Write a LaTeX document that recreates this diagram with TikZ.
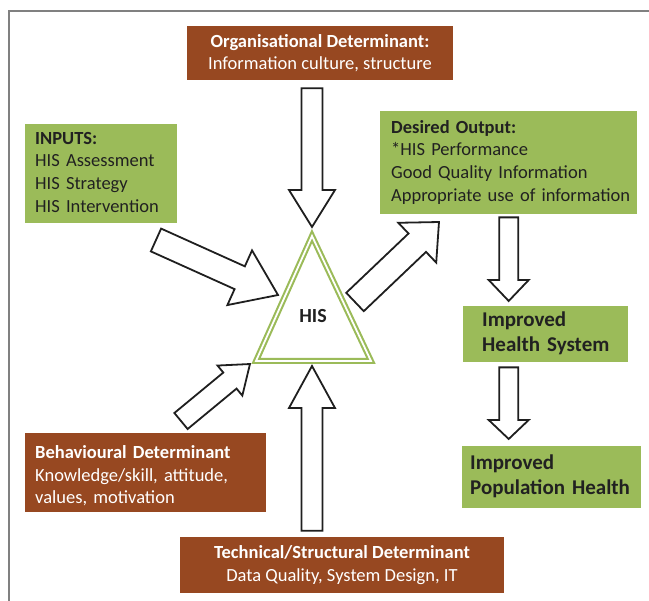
\documentclass[tikz,border=0pt]{standalone}
\usepackage{fontspec}
\setmainfont{Carlito}
\usetikzlibrary{calc}

\definecolor{hisbrown}{RGB}{151,72,33}
\definecolor{hisgreen}{RGB}{155,187,89}
\definecolor{histext}{RGB}{33,33,33}
\definecolor{framegray}{RGB}{128,128,128}

\def\boxfont{\fontsize{18.5}{22.6}\selectfont}
\def\bigfont{\fontsize{21}{24.5}\selectfont\bfseries}
% lines of a box, never broken
\newcommand{\boxlines}[1]{\begin{tabular}{@{}l@{}}#1\end{tabular}}

% block arrow between two named points: tail, tip, shaft half width, head half width, head length
\newcommand{\fatarrow}[5]{
	\draw[fatarrow] let \p1=(#1), \p2=(#2),
		\n1={atan2(\y2-\y1,\x2-\x1)}, \n2={veclen(\x2-\x1,\y2-\y1)} in
		[shift={(\p1)}, rotate=\n1]
		(0pt,-#3pt) -- (\n2-#5pt,-#3pt) -- (\n2-#5pt,-#4pt) -- (\n2,0pt)
		-- (\n2-#5pt,#4pt) -- (\n2-#5pt,#3pt) -- (0pt,#3pt) -- cycle;
}

\tikzset{
	brownbox/.style={fill=hisbrown, text=white, inner sep=0pt, align=center, font=\boxfont},
	greenbox/.style={fill=hisgreen, text=histext, inner ysep=0pt, align=left, anchor=north west, font=\boxfont},
	bigbox/.style={greenbox, font=\bigfont},
	fatarrow/.style={draw=black!88, line width=1.8pt, fill=white, line join=miter},
	histri/.style={draw=hisgreen, line width=2.1pt, double=white, double distance=1.8pt, line join=miter},
}

\begin{document}
\begin{tikzpicture}[x=1pt, y=-1pt]
	\useasboundingbox (0,0) rectangle (649,601);

	%outer frame, cut off at the right and bottom
	\draw[framegray, line width=1.5pt] (9,601) -- (9,11) -- (649,11);

	%determinants
	\node[brownbox, minimum width=266pt, minimum height=54pt] (org) at (320,53)
		{\textbf{Organisational Determinant:}\\Information culture, structure};
	\node[brownbox, minimum width=324pt, minimum height=56pt] (tech) at (342,565)
		{\textbf{Technical/Structural Determinant}\\Data Quality, System Design, IT};
	\node[greenbox, fill=hisbrown, text=white, inner xsep=10pt, text width=221pt, minimum height=79pt] (behav) at (25,433)
		{\boxlines{\rule{0pt}{24pt}\textbf{Behavioural Determinant}\\Knowledge/skill, attitude,\\values, motivation}};

	%inputs and outputs
	\node[greenbox, inner xsep=10pt, text width=132pt, minimum height=99pt] (inputs) at (25,124)
		{\boxlines{\textbf{INPUTS:}\\HIS Assessment\\HIS Strategy\\HIS Intervention}};
	\node[greenbox, inner xsep=11pt, text width=235pt, minimum height=103pt] (output) at (380,111)
		{\boxlines{\textbf{Desired Output:}\\{*}HIS Performance\\Good Quality Information\\Appropriate use of information}};
	\node[bigbox, inner xsep=19pt, text width=127pt, minimum height=56pt] (health) at (463,306)
		{\boxlines{Improved\\Health System}};
	\node[bigbox, inner xsep=8pt, text width=163pt, minimum height=62pt] (popu) at (462,446)
		{\boxlines{Improved\\Population Health}};

	%the HIS triangle
	\coordinate (apex) at (312,236);
	\coordinate (left) at (256,361);
	\coordinate (right) at (371,361);
	\draw[histri] (apex) -- (right) -- (left) -- cycle;
	\node[font=\fontsize{20}{24}\selectfont\bfseries, text=histext] (his) at (313,316) {HIS};

	%arrow ends
	\coordinate (orgTail) at ($(org.south)+(-8,8)$);
	\coordinate (orgTip) at (312,227);
	\coordinate (techTail) at ($(tech.north)+(-30,-6)$);
	\coordinate (techTip) at (312,366);
	\coordinate (inTail) at (156,240);
	\coordinate (inTip) at (278,295);
	\coordinate (outTail) at (355,302);
	\coordinate (outTip) at (439,222);
	\coordinate (behavTail) at (181,421);
	\coordinate (behavTip) at (250,364);
	\coordinate (healthTail) at ($(output.south)+(0,3)$);
	\coordinate (healthTip) at ($(output.south |- health.north)+(0,-5)$);
	\coordinate (popuTail) at ($(output.south |- health.south)+(0,5)$);
	\coordinate (popuTip) at ($(output.south |- popu.north)+(0,-7)$);

	\fatarrow{orgTail}{orgTip}{10.5}{23}{37}
	\fatarrow{techTail}{techTip}{10.5}{23}{42}
	\fatarrow{inTail}{inTip}{12.5}{30}{42}
	\fatarrow{outTail}{outTip}{12.7}{27.5}{30}
	\fatarrow{behavTail}{behavTip}{10.4}{19.5}{26}
	\fatarrow{healthTail}{healthTip}{9.5}{20}{21}
	\fatarrow{popuTail}{popuTip}{9.5}{20}{19}

\end{tikzpicture}
\end{document}
